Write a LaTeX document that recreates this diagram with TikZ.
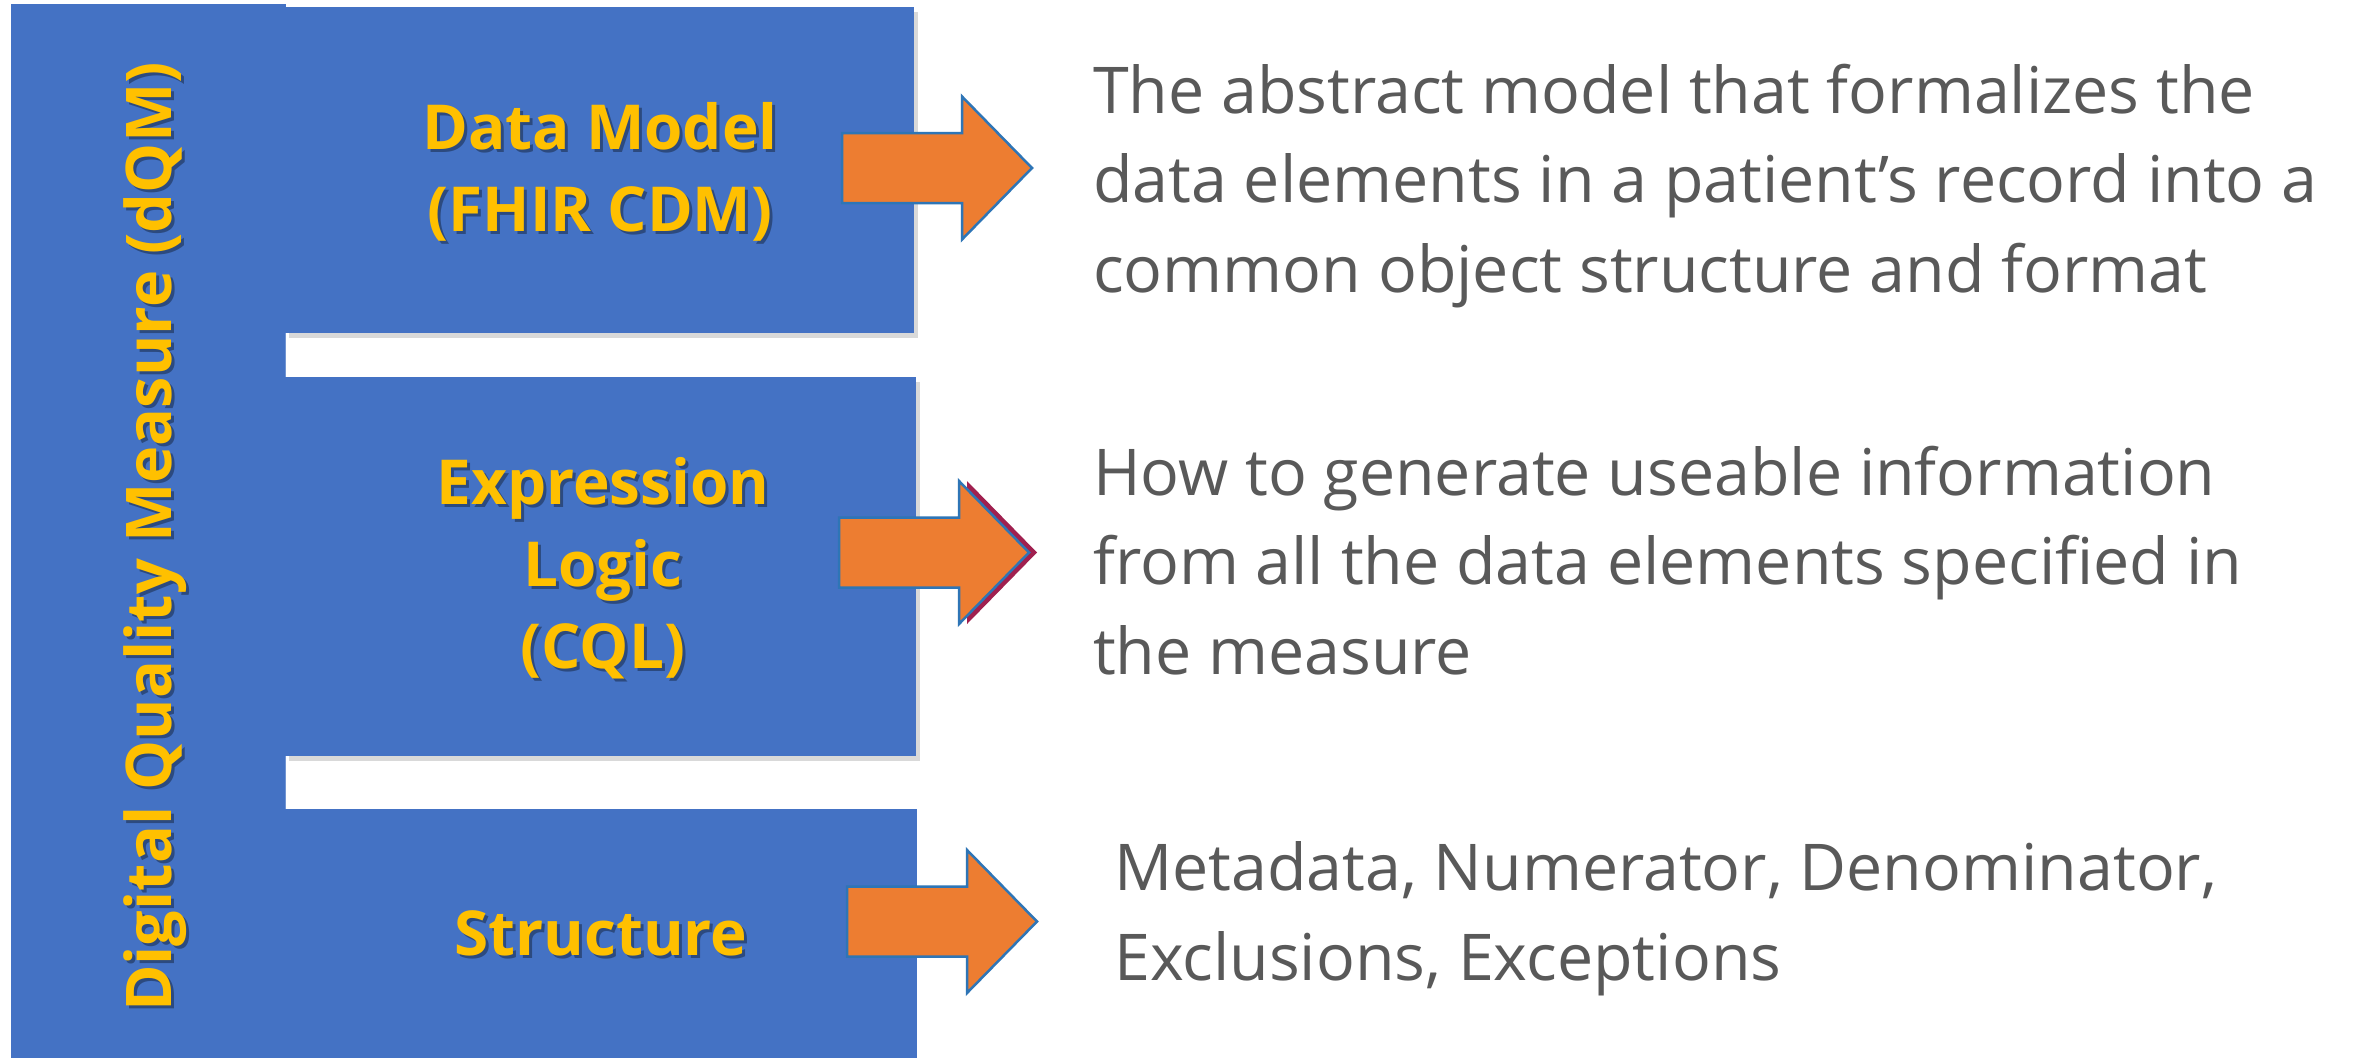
\documentclass[tikz,border=0pt]{standalone}
\usepackage{fontspec}
\setmainfont{Open Sans}
\definecolor{dqblue}{HTML}{4472C4}
\definecolor{dqyellow}{HTML}{FFC000}
\definecolor{dqorange}{HTML}{ED7D31}
\definecolor{dqgrey}{HTML}{595959}
\definecolor{arrowblue}{HTML}{2E75B6}
\definecolor{crimson}{HTML}{A0204F}
\tikzset{
  bluebox/.style={fill=dqblue, draw=none, rectangle, inner sep=0pt, anchor=north west},
  boxshadow/.style={fill=black, opacity=0.15},
  ylabel/.style={text=dqyellow, font=\bfseries\fontsize{62}{82}\selectfont, align=center, inner sep=0pt, anchor=base},
  yshadow/.style={text=black, text opacity=0.35, font=\bfseries\fontsize{62}{82}\selectfont, align=center, inner sep=0pt, anchor=base},
  titlefont/.style={font=\bfseries\fontsize{63}{80}\selectfont},
  desc/.style={text=dqgrey, font=\fontsize{64.5}{89.5}\selectfont, align=left, anchor=base west, inner sep=0pt},
  blockarrow/.pic={
    \filldraw[fill=dqorange, draw=arrowblue, line width=2.5pt, line join=miter]
      (0,-35) -- (120,-35) -- (120,-71.5) -- (190,0) -- (120,71.5) -- (120,35) -- (0,35) -- cycle;
  },
  crimsonarrow/.pic={
    \fill[crimson]
      (0,-35) -- (120,-35) -- (120,-71.5) -- (190,0) -- (120,71.5) -- (120,35) -- (0,35) -- cycle;
  }
}
\begin{document}
\begin{tikzpicture}[x=1pt,y=-1pt]
\useasboundingbox (0,0) rectangle (2361,1058);
\fill[white] (0,0) rectangle (2361,1058);

% shadows of boxes
\fill[boxshadow] (289,12) rectangle (918,338);
\fill[boxshadow] (289,382) rectangle (920,761);

% left column and boxes
\node[bluebox, minimum width=275pt, minimum height=1054pt] (col) at (10.5,4) {};
\node[bluebox, minimum width=629pt, minimum height=326pt] (b1) at (285,7) {};
\node[bluebox, minimum width=631pt, minimum height=379pt] (b2) at (285,377) {};
\node[bluebox, minimum width=632pt, minimum height=249pt] (b3) at (285,809) {};
\draw[white, opacity=0.25, line width=1pt] (285,333) -- (285,377);
\draw[white, opacity=0.25, line width=1pt] (285,756) -- (285,809);

% vertical title
\node[yshadow, rotate=90, titlefont] at (174,540) {Digital Quality Measure (dQM)};
\node[ylabel, rotate=90, titlefont] (title) at (171,537) {Digital Quality Measure (dQM)};

% box labels (anchor = baseline of last line)
\node[yshadow] at (603,234) {Data Model\\(FHIR CDM)};
\node[ylabel] (l1) at (600,231) {Data Model\\(FHIR CDM)};
\node[yshadow] at (606,671) {Expression\\Logic\\(CQL)};
\node[ylabel] (l2) at (603,668) {Expression\\Logic\\(CQL)};
\node[yshadow] at (604,958) {Structure};
\node[ylabel] (l3) at (601,955) {Structure};

% arrows
\pic at (842,168) {blockarrow};
\pic at (847,552.5) {crimsonarrow};
\pic at (839,552.5) {blockarrow};
\pic at (847,921.5) {blockarrow};

% descriptions (anchor = baseline of last line)
\node[desc] (d1) at (1093,292) {The abstract model that formalizes the\\data elements in a patient’s record into a\\common object structure and format};
\node[desc] (d2) at (1093,674) {How to generate useable information\\from all the data elements specified in\\the measure};
\node[desc] (d3) at (1114,980) {Metadata, Numerator, Denominator,\\Exclusions, Exceptions};
\end{tikzpicture}
\end{document}
